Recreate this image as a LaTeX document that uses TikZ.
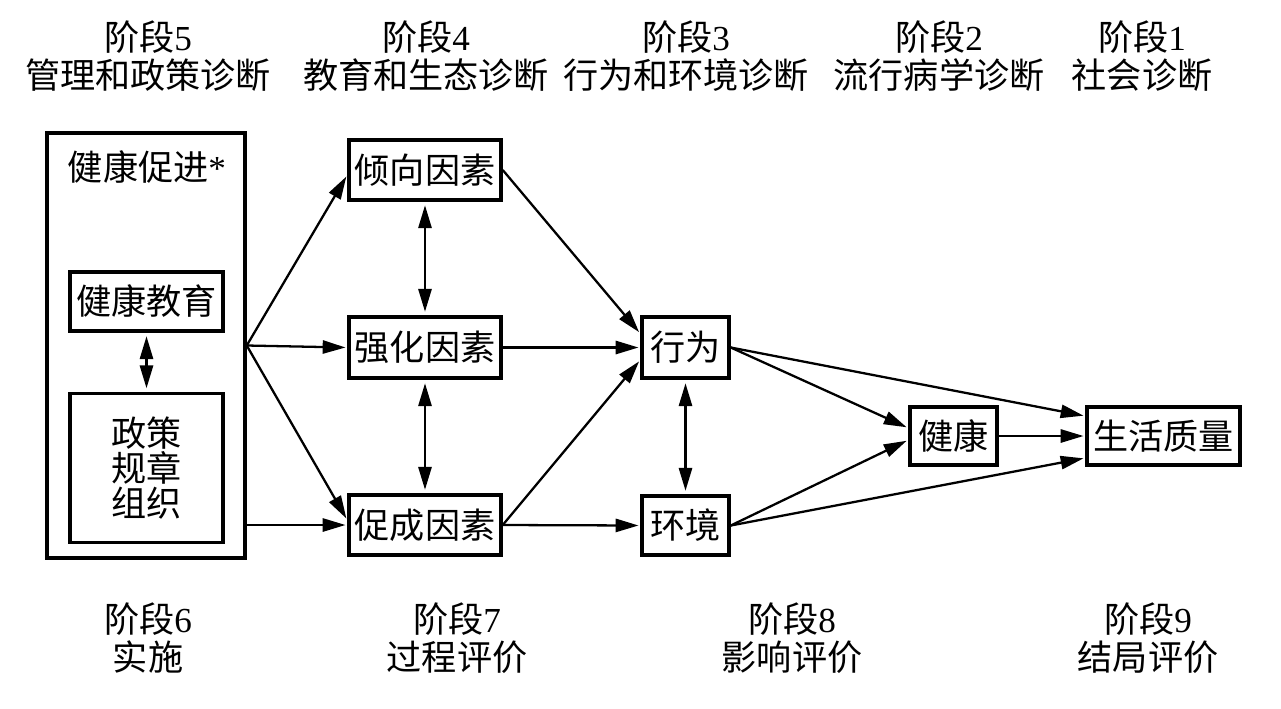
\documentclass[tikz,border=0pt]{standalone}
\usepackage{fontspec}
\setmainfont{Liberation Serif}
\newfontfamily\cjk{Noto Sans CJK SC}
\usepackage{tikz}
\usetikzlibrary{arrows.meta}

\tikzset{
  box/.style={draw, line width=2pt, inner sep=0pt, align=center},
  stagetext/.style={align=center},
  link/.style={line width=1.3pt, -{Triangle[length=13pt,width=7.5pt]}, shorten >=1pt},
  twoway/.style={line width=1.3pt, {Triangle[length=13pt,width=7.5pt]}-{Triangle[length=13pt,width=7.5pt]}, shorten >=2pt, shorten <=2pt}
}

\begin{document}
\begin{tikzpicture}[x=0.02cm, y=-0.02cm, font=\cjk\fontsize{20}{22}\selectfont]
    \useasboundingbox [fill=white] (0,0) rectangle (1281,708);
    % Stage captions, top row
    \node [stagetext] (s5) at (148,56) {阶段{\rmfamily 5}\\管理和政策诊断};
    \node [stagetext] (s4) at (426,56) {阶段{\rmfamily 4}\\教育和生态诊断};
    \node [stagetext] (s3) at (686,56) {阶段{\rmfamily 3}\\行为和环境诊断};
    \node [stagetext] (s2) at (939,56) {阶段{\rmfamily 2}\\流行病学诊断};
    \node [stagetext] (s1) at (1142,56) {阶段{\rmfamily 1}\\社会诊断};
    % Stage captions, bottom row
    \node [stagetext] (s6) at (148,638) {阶段{\rmfamily 6}\\实施};
    \node [stagetext] (s7) at (457,638) {阶段{\rmfamily 7}\\过程评价};
    \node [stagetext] (s8) at (792,638) {阶段{\rmfamily 8}\\影响评价};
    \node [stagetext] (s9) at (1148,638) {阶段{\rmfamily 9}\\结局评价};
    % Health promotion block
    \node [box, minimum width=3.96cm, minimum height=8.5cm] (promo) at (146,345.5) {};
    \node (promolabel) at (147,167) {健康促进{\rmfamily *}};
    \node [box, minimum width=3.06cm, minimum height=1.18cm] (edu) at (146.5,301.5) {健康教育};
    \node [box, minimum width=3.06cm, minimum height=2.98cm, font=\cjk\fontsize{20}{20}\selectfont] (policy) at (146.5,468) {政策\\规章\\组织};
    % Factors
    \node [box, minimum width=3.04cm, minimum height=1.2cm] (pred) at (425,170) {倾向因素};
    \node [box, minimum width=3.04cm, minimum height=1.22cm] (reinf) at (425,347.5) {强化因素};
    \node [box, minimum width=3.04cm, minimum height=1.2cm] (enab) at (425,525) {促成因素};
    % Behaviour, environment, outcomes
    \node [box, minimum width=1.74cm, minimum height=1.22cm] (behav) at (685.5,347.5) {行为};
    \node [box, minimum width=1.74cm, minimum height=1.18cm] (env) at (685.5,525.5) {环境};
    \node [box, minimum width=1.74cm, minimum height=1.16cm] (health) at (953.5,436) {健康};
    \node [box, minimum width=3.06cm, minimum height=1.16cm] (qol) at (1163.5,436) {生活质量};
    % Arrows from health promotion
    \draw [twoway] (edu.south) -- (policy.north);
    \draw [link] (promo.east) -- ([yshift=-0.1cm]pred.west);
    \draw [link] (promo.east) -- (reinf.west);
    \draw [link] (promo.east) -- ([yshift=0.1cm]enab.west);
    \draw [link] (promo.east |- enab.west) -- (enab.west);
    % Between factors
    \draw [twoway] (pred.south) -- (reinf.north);
    \draw [twoway] (reinf.south) -- (enab.north);
    \draw [link] (pred.east) -- ([yshift=0.28cm]behav.west);
    \draw [link] (reinf.east) -- (behav.west);
    \draw [link] (enab.east) -- ([yshift=-0.25cm]behav.west);
    \draw [link] (enab.east) -- (env.west);
    \draw [twoway] (behav.south) -- (env.north);
    % Towards outcomes
    \draw [link] (behav.east) -- ([yshift=0.16cm]health.west);
    \draw [link] (behav.east) -- ([yshift=0.4cm]qol.west);
    \draw [link] (env.east) -- ([yshift=-0.08cm]health.west);
    \draw [link] (env.east) -- ([yshift=-0.44cm]qol.west);
    \draw [link] (health.east) -- (qol.west);
\end{tikzpicture}
\end{document}
